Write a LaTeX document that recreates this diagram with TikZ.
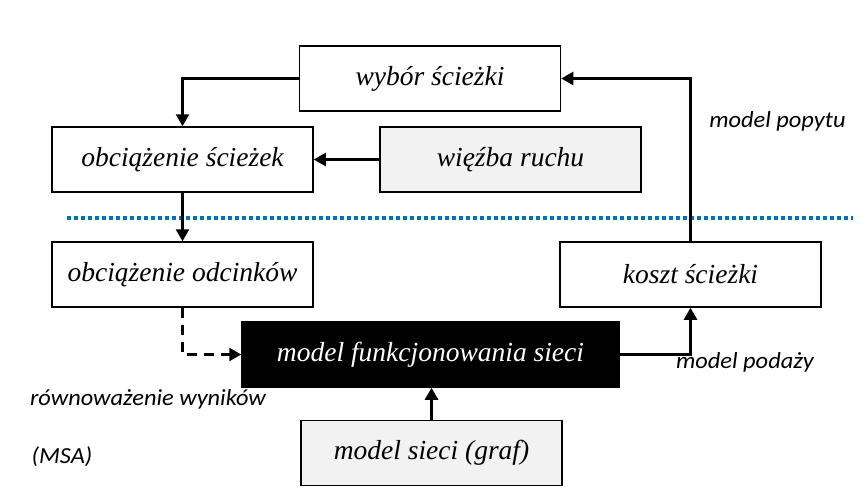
\documentclass[tikz,border=0pt]{standalone}
\usepackage{fontspec}
\setmainfont{Liberation Serif}
\newfontfamily\labfont{Carlito}
\usetikzlibrary{arrows.meta}
\definecolor{boxgray}{HTML}{F2F2F2}
\definecolor{sepblue}{HTML}{0070C0}
\newcommand{\widelab}[1]{\scalebox{1.06}[1]{#1}}
\tikzset{
  box/.style={draw=black, line width=1.5pt, fill=white, minimum width=261pt, minimum height=65pt, inner sep=0pt, font=\fontsize{27.5}{32}\selectfont\itshape},
  graybox/.style={box, fill=boxgray},
  blackbox/.style={box, fill=black, text=white, minimum width=377pt},
  conn/.style={draw=black, line width=2.5pt, -{Triangle[length=12pt,width=13pt]}},
  dconn/.style={conn, dash pattern=on 10pt off 7pt},
  lab/.style={font=\labfont\fontsize{23}{27}\selectfont\itshape, inner sep=0pt, anchor=base}
}
\begin{document}
\begin{tikzpicture}[x=1pt,y=-1pt]
\useasboundingbox (0,0) rectangle (866,500);
\node[box] (wyb) at (430,78.5) {wybór ścieżki};
\node[box] (obs) at (182.5,159.5) {obciążenie ścieżek};
\node[graybox] (wiez) at (510.5,159.5) {więźba ruchu};
\node[box] (odc) at (182.5,274.5) {obciążenie odcinków};
\node[box] (koszt) at (690.5,274.5) {koszt ścieżki};
\node[blackbox] (mfs) at (430.5,354.5) {model funkcjonowania sieci};
\node[graybox] (graf) at (431.5,453) {model sieci (graf)};
\coordinate (sepL) at (67,218);
\coordinate (sepR) at (853,218);
\draw[sepblue, line width=4pt, dash pattern=on 4pt off 3pt] (sepL) -- (sepR);
\draw[conn] (wyb.west) -| (obs.north);
\draw[conn] (wiez.west) -- (obs.east);
\draw[conn] (obs.south) -- (odc.north);
\draw[conn] (koszt.north) |- (wyb.east);
\draw[dconn] (odc.south) |- (mfs.west);
\draw[conn] (mfs.east) -| (koszt.south);
\draw[conn] (graf.north) -- (graf.north |- mfs.south);
\node[lab] (lpop) at (777.5,127) {\widelab{model popytu}};
\node[lab] (lpod) at (745,368) {\widelab{model podaży}};
\node[lab] (lrow) at (148,405) {\widelab{równoważenie wyników}};
\node[lab] (lmsa) at (62,463) {\widelab{(MSA)}};
\end{tikzpicture}
\end{document}
